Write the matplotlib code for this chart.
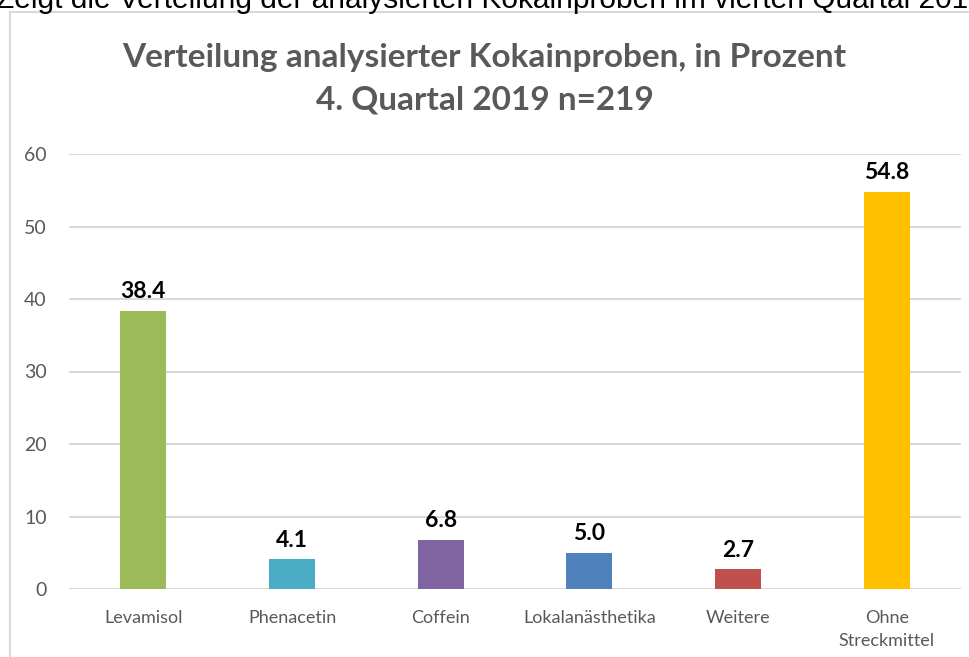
import matplotlib.pyplot as plt
from matplotlib.patches import Rectangle

categories = ["Levamisol", "Phenacetin", "Coffein", "Lokalanästhetika", "Weitere", "Ohne\nStreckmittel"]
values = [38.4, 4.1, 6.8, 5.0, 2.7, 54.8]
colors = ["#9BBB59", "#4BACC6", "#8064A2", "#4F81BD", "#C0504D", "#FFC000"]
yticks = [0, 10, 20, 30, 40, 50, 60]

plt.rcParams['font.family'] = ['Lato', 'DejaVu Sans']

fig = plt.figure(figsize=(9.69, 6.57), dpi=100)
W, H = 969, 657

# caption above the chart, cut off by the screenshot edge
fig.text(-0.004, 1 - 8 / H, "Zeigt die Verteilung der analysierten Kokainproben im vierten Quartal 2019",
         fontsize=21.5, family='Liberation Sans', color='black', ha='left', va='baseline')

# chart frame
fig.patches.append(Rectangle((10 / W, -0.05), 1.1, 1 - 12 / H + 0.05, transform=fig.transFigure,
                             fill=False, edgecolor='#D9D9D9', linewidth=1.5))

ax = fig.add_axes([69 / W, 1 - 589 / H, 892 / W, 435 / H])
x = range(len(categories))
ax.bar(x, values, width=0.31, color=colors, zorder=3)
for xi, v in zip(x, values):
    ax.text(xi, v + 1.2, f"{v:.1f}", ha='center', va='bottom', fontsize=16.5,
            fontweight='bold', color='black')

ax.set_xlim(-0.5, len(categories) - 0.5)
ax.set_ylim(0, 60)
ax.set_yticks(yticks)
ax.set_xticks(list(x))
ax.set_xticklabels(categories, fontsize=13, color='#595959', linespacing=1.55, va='top')
ax.tick_params(axis='y', labelsize=14, labelcolor='#595959', length=0, pad=16)
ax.tick_params(axis='x', length=0, pad=15)
ax.grid(axis='y', color='#D9D9D9', linewidth=1.5, zorder=0)
for s in ax.spines.values():
    s.set_visible(False)

fig.text(0.5, 1 - 57 / H, "Verteilung analysierter Kokainproben, in Prozent",
         ha='center', va='center', fontsize=24, fontweight='bold', color='#595959')
fig.text(0.5, 1 - 100 / H, "4. Quartal 2019 n=219",
         ha='center', va='center', fontsize=24, fontweight='bold', color='#595959')

plt.savefig("out.png", dpi=100)
